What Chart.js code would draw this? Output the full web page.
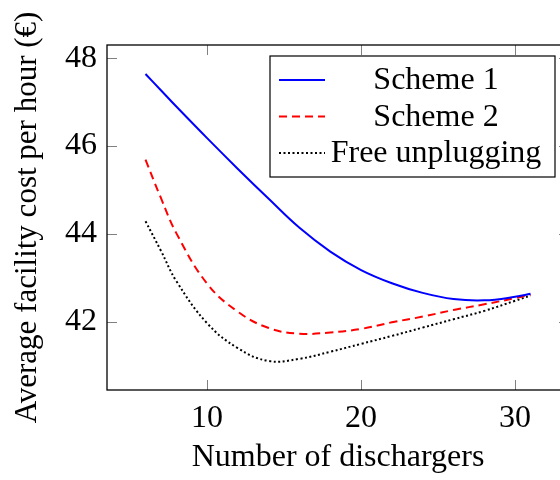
<!DOCTYPE html>
<html lang="en">
<head>
    <meta charset="UTF-8">
    <title>Average facility cost per hour</title>
    <script src="https://cdn.jsdelivr.net/npm/chart.js"></script>
    <style>
        body {
            margin: 0;
            background: white;
            overflow: hidden;
        }
        .chart-container {
            width: 575px;
            height: 480px;
        }
    </style>
</head>
<body>

    <div class="chart-container">
        <canvas id="costChart" width="575" height="480"></canvas>
    </div>

    <script>
        // values
        const dischargers = [6, 7, 8, 10, 12, 14, 16, 18, 20, 22, 24, 26, 28, 30, 31];
        const scheme1 = [47.64, 47.27, 46.90, 46.18, 45.48, 44.80, 44.14, 43.60, 43.18, 42.88, 42.66, 42.52, 42.49, 42.57, 42.64];
        const scheme2 = [45.69, 44.82, 44.02, 42.87, 42.23, 41.86, 41.73, 41.76, 41.84, 41.99, 42.12, 42.27, 42.40, 42.54, 42.62];
        const freeUnplug = [44.29, 43.62, 42.93, 41.97, 41.40, 41.11, 41.16, 41.32, 41.50, 41.68, 41.87, 42.06, 42.25, 42.48, 42.60];

        const xTicks = [10, 20, 30];
        const yTicks = [42, 44, 46, 48];

        const font = 'Liberation Serif';

        const toPoints = ys => dischargers.map((x, i) => ({ x: x, y: ys[i] }));

        // pgfplots-style frame with ticks pointing inwards
        const framePlugin = {
            id: 'frame',
            afterDatasetsDraw(chart) {
                const { ctx, chartArea: a, scales } = chart;
                const line = (x1, y1, x2, y2) => {
                    ctx.beginPath();
                    ctx.moveTo(x1, y1);
                    ctx.lineTo(x2, y2);
                    ctx.stroke();
                };
                ctx.save();
                ctx.strokeStyle = '#808080';
                ctx.lineWidth = 1;
                xTicks.forEach(v => {
                    const px = Math.round(scales.x.getPixelForValue(v)) + 0.5;
                    line(px, a.bottom, px, a.bottom - 10);
                    line(px, a.top, px, a.top + 10);
                });
                yTicks.forEach(v => {
                    const py = Math.round(scales.y.getPixelForValue(v)) + 0.5;
                    line(a.left, py, a.left + 10, py);
                    line(a.right, py, a.right - 10, py);
                });
                ctx.strokeStyle = '#000';
                ctx.lineWidth = 1.3;
                ctx.strokeRect(a.left, a.top, a.right - a.left, a.bottom - a.top);
                ctx.restore();
            }
        };

        // legend box drawn inside the plot area
        const boxLegend = {
            id: 'boxLegend',
            afterDraw(chart, args, opts) {
                const { ctx } = chart;
                ctx.save();
                ctx.fillStyle = 'white';
                ctx.fillRect(opts.left, opts.top, opts.width, opts.height);
                ctx.strokeStyle = '#000';
                ctx.lineWidth = 1.2;
                ctx.strokeRect(opts.left, opts.top, opts.width, opts.height);
                ctx.font = '32px "' + font + '"';
                ctx.textAlign = 'center';
                ctx.textBaseline = 'middle';
                chart.data.datasets.forEach((ds, i) => {
                    const y = opts.top + opts.firstRow + i * opts.rowStep;
                    ctx.strokeStyle = ds.borderColor;
                    ctx.lineWidth = ds.borderWidth;
                    ctx.setLineDash(ds.borderDash || []);
                    ctx.beginPath();
                    ctx.moveTo(opts.left + 9, y);
                    ctx.lineTo(opts.left + 55, y);
                    ctx.stroke();
                    ctx.setLineDash([]);
                    ctx.fillStyle = '#000';
                    ctx.fillText(ds.label, opts.textX, y + 1);
                });
                ctx.restore();
            }
        };

        new Chart(document.getElementById('costChart').getContext('2d'), {
            type: 'line',
            data: {
                datasets: [{
                    label: 'Scheme 1',
                    data: toPoints(scheme1),
                    borderColor: '#0000ff',
                    borderWidth: 2,
                    pointRadius: 0,
                    tension: 0.4
                }, {
                    label: 'Scheme 2',
                    data: toPoints(scheme2),
                    borderColor: '#ff0000',
                    borderWidth: 2,
                    borderDash: [8, 5],
                    pointRadius: 0,
                    tension: 0.4
                }, {
                    label: 'Free unplugging',
                    data: toPoints(freeUnplug),
                    borderColor: '#000000',
                    borderWidth: 2,
                    borderDash: [2, 2.5],
                    pointRadius: 0,
                    tension: 0.4
                }]
            },
            options: {
                responsive: false,
                animation: false,
                layout: { padding: { top: 45, right: 6, left: 0, bottom: 0 } },
                plugins: {
                    legend: { display: false },
                    tooltip: { enabled: false },
                    boxLegend: {
                        left: 270, top: 56, width: 285, height: 121,
                        firstRow: 24, rowStep: 36.5, textX: 436
                    }
                },
                scales: {
                    x: {
                        type: 'linear',
                        min: 3.5,
                        max: 33.5,
                        afterBuildTicks: s => { s.ticks = xTicks.map(v => ({ value: v })); },
                        afterFit: s => { s.height = 90; },
                        grid: { display: false, drawTicks: false },
                        border: { display: false },
                        ticks: {
                            padding: 9,
                            color: '#000',
                            font: { family: font, size: 32 }
                        },
                        title: {
                            display: true,
                            text: 'Number of dischargers',
                            color: '#000',
                            font: { family: font, size: 32 },
                            padding: { top: 0, bottom: 3 }
                        }
                    },
                    y: {
                        min: 40.45,
                        max: 48.3,
                        afterBuildTicks: s => { s.ticks = yTicks.map(v => ({ value: v })); },
                        afterFit: s => { s.width = 107; },
                        grid: { display: false, drawTicks: false },
                        border: { display: false },
                        ticks: {
                            padding: 10,
                            color: '#000',
                            font: { family: font, size: 32 }
                        },
                        title: {
                            display: true,
                            text: 'Average facility cost per hour (€)',
                            color: '#000',
                            font: { family: font, size: 31 },
                            padding: { top: 9, bottom: 0 }
                        }
                    }
                }
            },
            plugins: [framePlugin, boxLegend]
        });
    </script>

</body>
</html>
